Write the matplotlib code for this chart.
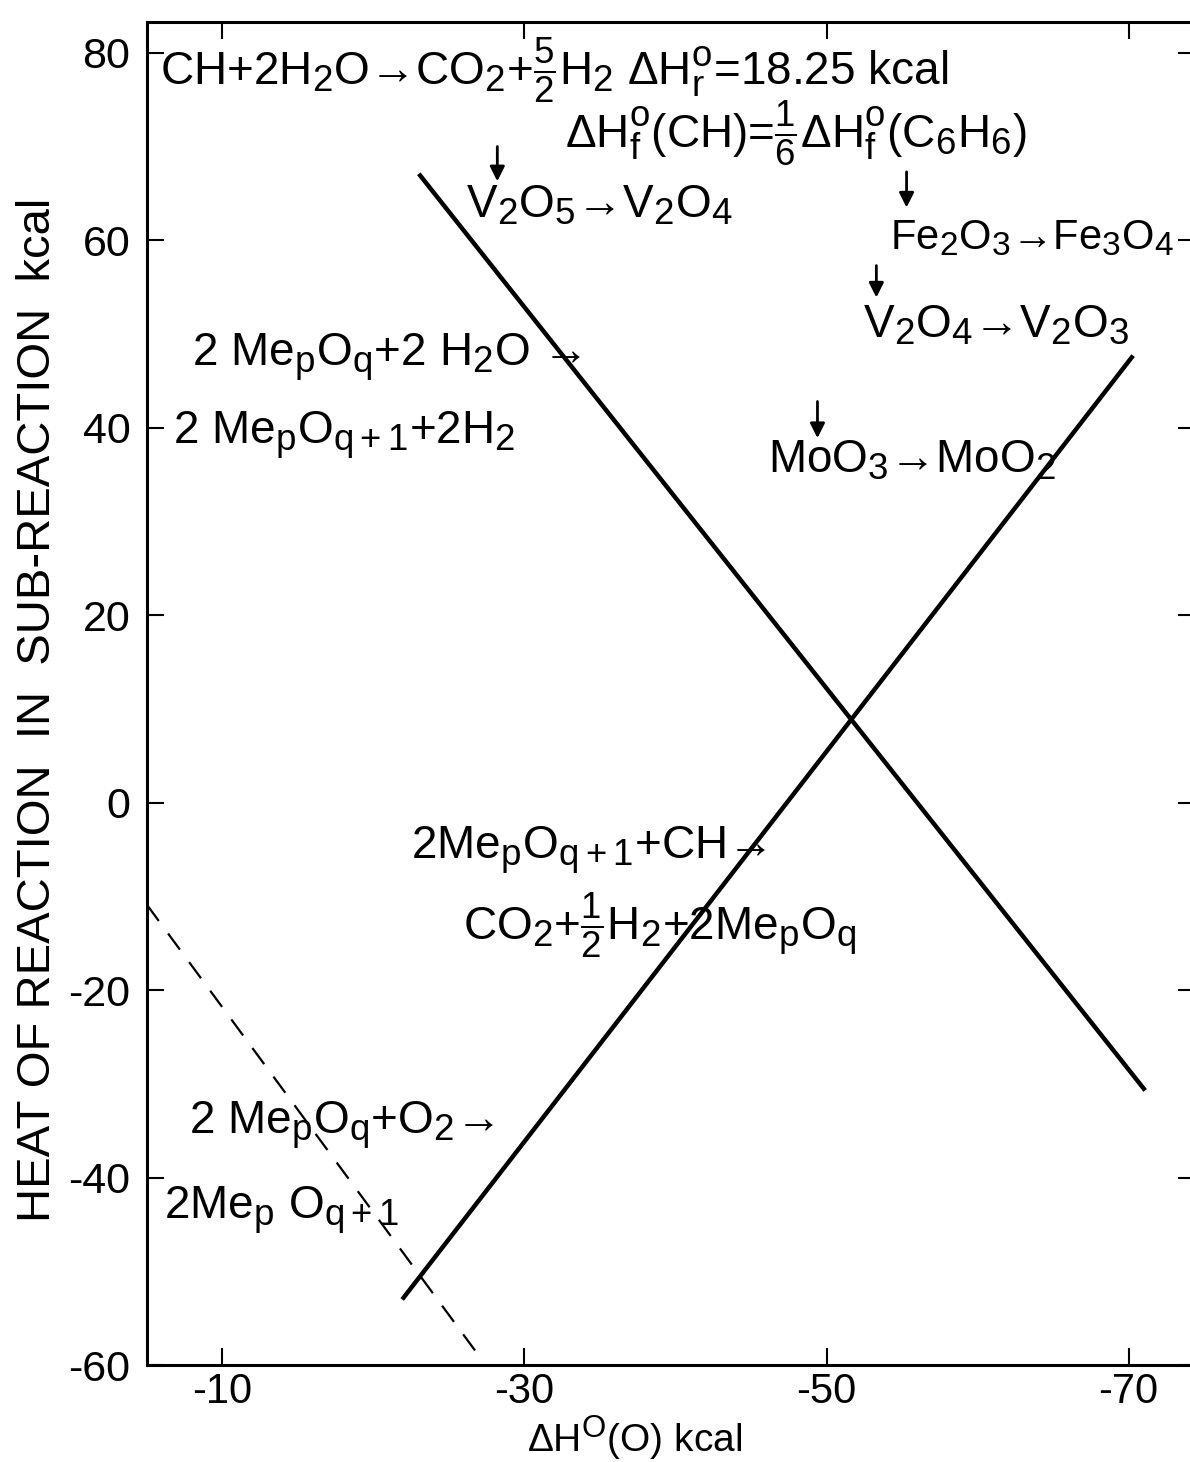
import matplotlib
matplotlib.use("Agg")
import matplotlib.pyplot as plt
import matplotlib._mathtext as mathtext_mod

plt.rcParams['font.family'] = ['Liberation Sans', 'DejaVu Sans']
plt.rcParams['mathtext.fontset'] = 'custom'
plt.rcParams['mathtext.rm'] = 'Liberation Sans'
plt.rcParams['mathtext.it'] = 'Liberation Sans'
plt.rcParams['mathtext.default'] = 'regular'
# the scanned figure has fairly large subscripts
mathtext_mod.SHRINK_FACTOR = 0.8

# lines: dH(O) kcal vs heat of sub-reaction kcal
h2o_x = [-23.0, -71.1]
h2o_y = [67.1, -30.7]
ch_x = [-21.9, -70.3]
ch_y = [-53.0, 47.7]
o2_x = [-5.0, -27.3]
o2_y = [-10.9, -59.7]

xticks = [-10, -30, -50, -70]
yticks = [80, 60, 40, 20, 0, -20, -40, -60]

fig = plt.figure(figsize=(11.9, 14.62), dpi=100)
ax = fig.add_axes([0.1235, 0.0663, 0.8807, 0.9187])

ax.plot(h2o_x, h2o_y, color='black', lw=3.2, solid_capstyle='butt')
ax.plot(ch_x, ch_y, color='black', lw=3.2, solid_capstyle='butt')
ax.plot(o2_x, o2_y, color='black', lw=1.6, linestyle=(0, (9, 7)))

ax.set_xlim(-5.0, -74.4)
ax.set_ylim(-60, 83.3)
ax.set_xticks(xticks)
ax.set_xticklabels([str(v) for v in xticks])
ax.set_yticks(yticks)
ax.set_yticklabels([str(v) for v in yticks])
ax.tick_params(direction='in', length=12, width=1.5, labelsize=31,
               top=True, right=True)
ax.tick_params(axis='x', pad=5, labelsize=30)
ax.tick_params(axis='y', pad=12)
for s in ax.spines.values():
    s.set_linewidth(2.2)

ax.set_ylabel('HEAT OF REACTION  IN  SUB-REACTION  kcal', fontsize=34)
ax.yaxis.set_label_coords(-0.083, 0.488)
ax.set_xlabel(r'$\Delta$H$^{\mathrm{O}}$(O) kcal', fontsize=28)
ax.xaxis.label.set_va('baseline')
ax.xaxis.set_label_coords(0.465, -0.065)

fs = 33
txt = dict(fontsize=fs, va='center', ha='left')
ax.text(-5.86, 78.1, r'CH+2H$_2$O→CO$_2$+$\frac{5}{2}$H$_2$ $\Delta$H$^o_r$=18.25 kcal', **txt)
ax.text(-32.7, 71.4, r'$\Delta$H$^o_f$(CH)=$\frac{1}{6}\Delta$H$^o_f$(C$_6$H$_6$)', **txt)
ax.text(-26.1, 63.7, r'V$_2$O$_5$→V$_2$O$_4$', **txt)
ax.text(-54.2, 60.2, r'Fe$_2$O$_3$→Fe$_3$O$_4$', fontsize=30, va='center', ha='left')
ax.text(-52.4, 50.9, r'V$_2$O$_4$→V$_2$O$_3$', **txt)
ax.text(-46.1, 36.5, r'MoO$_3$→MoO$_2$', **txt)
ax.text(-8.0, 47.5, r'2 Me$_p$O$_q$+2 H$_2$O →', **txt)
ax.text(-6.7, 39.2, r'2 Me$_p$O$_{q+1}$+2H$_2$', **txt)
ax.text(-22.5, -5.1, r'2Me$_p$O$_{q+1}$+CH→', **txt)
ax.text(-25.9, -13.1, r'CO$_2$+$\frac{1}{2}$H$_2$+2Me$_p$O$_q$', **txt)
ax.text(-7.8, -34.4, r'2 Me$_p$O$_q$+O$_2$→', **txt)
ax.text(-6.1, -43.5, r'2Me$_p$ O$_{q+1}$', **txt)

arrow = dict(arrowstyle='-|>', color='black', lw=2, mutation_scale=22)
for x0, y0, y1 in [(-28.2, 70.3, 66.0), (-55.3, 67.6, 63.2),
                   (-53.3, 57.6, 53.6), (-49.4, 43.1, 38.6)]:
    ax.annotate('', xy=(x0, y1), xytext=(x0, y0), arrowprops=arrow)

fig.savefig('out.png', dpi=100)
